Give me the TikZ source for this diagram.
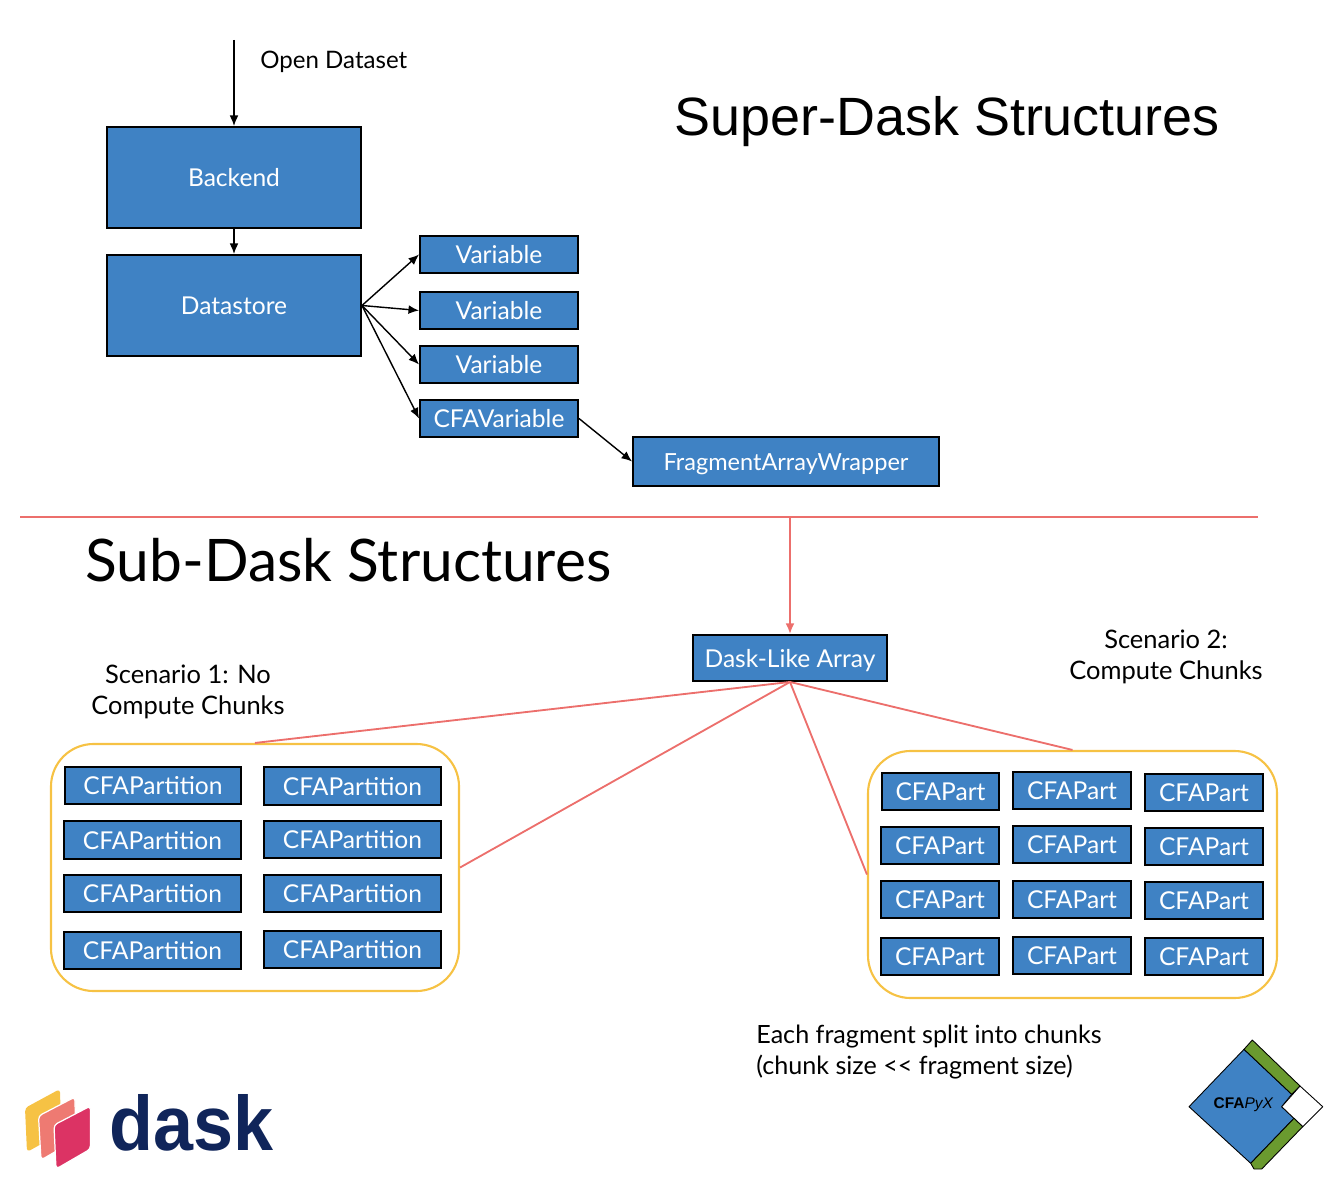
\documentclass[tikz,border=0pt]{standalone}
\usepackage{fontspec}
\setmainfont{Lato}
\newfontfamily\logofont{Liberation Sans}
\usetikzlibrary{arrows.meta}
\definecolor{boxblue}{HTML}{3F82C4}
\definecolor{redline}{HTML}{EC6F6C}
\definecolor{yel}{HTML}{F6C244}
\definecolor{daskpink}{HTML}{EE7A72}
\definecolor{daskred}{HTML}{DC3364}
\definecolor{dasknavy}{HTML}{10255A}
\definecolor{cfagreen}{HTML}{6A9A2F}
\newcommand{\pxbox}[7][bluebox]{%
  \pgfmathsetmacro{\cxv}{(#3+#5)/2}\pgfmathsetmacro{\cyv}{(#4+#6)/2}%
  \pgfmathsetmacro{\wv}{(#5-#3)*0.02}\pgfmathsetmacro{\hv}{(#6-#4)*0.02}%
  \node[#1,minimum width=\wv cm,minimum height=\hv cm] (#2) at (\cxv,\cyv) {#7};}
\tikzset{
  bluebox/.style={draw=black,line width=1.1pt,fill=boxblue,text=white,inner sep=0pt,text height=10.4pt,text depth=0pt,font=\fontsize{14}{16}\selectfont},
  fawbox/.style={bluebox,font=\fontsize{13.4}{16}\selectfont},
  arr/.style={draw=black,line width=0.8pt,-{Latex[length=6pt,width=5pt]}},
  redl/.style={draw=redline,line width=1.05pt},
  grp/.style={draw=yel,line width=1.2pt,rounded corners=0.85cm,inner sep=0pt},
  lbl/.style={text=black,font=\fontsize{14.5}{17.7}\selectfont,align=center,inner sep=0pt},
  titla/.style={text=black,font=\logofont\fontsize{30.7}{36}\selectfont,inner sep=0pt},
  titlb/.style={text=black,font=\fontsize{33.4}{36}\selectfont,inner sep=0pt},
  logoedge/.style={draw=black,line width=0.5pt,line join=round},
}
\begin{document}
\begin{tikzpicture}[x=0.02cm,y=-0.02cm]
\useasboundingbox (0,0) rectangle (1334,1192);
% top part
\coordinate (open) at (234,40);
\pxbox{backend}{107}{127}{361}{228}{Backend}
\pxbox{datastore}{107}{255}{361}{356}{Datastore}
\pxbox{v1}{420}{236}{578}{273}{Variable}
\pxbox{v2}{420}{292}{578}{329}{Variable}
\pxbox{v3}{420}{346}{578}{383}{Variable}
\pxbox{cv}{420}{400}{578}{437}{CFAVariable}
\pxbox[fawbox]{faw}{633}{437}{939}{486}{FragmentArrayWrapper}
\draw[arr] (open) -- (backend.north);
\draw[arr] (backend.south) -- (datastore.north);
\draw[arr] (datastore.east) -- (v1.west);
\draw[arr] (datastore.east) -- (v2.west);
\draw[arr] (datastore.east) -- (v3.west);
\draw[arr] (datastore.east) -- (cv.west);
\draw[arr] (cv.east) -- (faw.west);
\node[lbl,anchor=west,font=\fontsize{13.7}{17}\selectfont] (opl) at (260,61.5) {Open Dataset};
\node[titla,anchor=west] (t1) at (674,122) {Super-Dask Structures};
\node[titlb,anchor=west] (t2) at (85,560) {Sub-Dask Structures};
% divider
\coordinate (dl) at (20,517);
\coordinate (dr) at (1258,517);
\coordinate (dm) at (790,517);
\draw[redl] (dl) -- (dr);
% Dask-like
\pxbox{dla}{693}{635}{887}{681}{Dask-Like Array}
\draw[redl,-{Latex[length=6pt,width=5pt]}] (dm) -- (dla.north);
% groups
\pxbox[grp]{g1}{51}{744}{459}{991}{}
\pxbox[grp]{g2}{868}{751}{1277}{998}{}
\draw[redl] (dla.south) -- (g1.north);
\draw[redl] (dla.south) -- (g1.east);
\draw[redl] (dla.south) -- (g2.west);
\draw[redl] (dla.south) -- (g2.north);
\node[lbl] (s1) at (188,691.5) {Scenario 1: No\\Compute Chunks};
\node[lbl] (s2) at (1166,656.5) {Scenario 2:\\Compute Chunks};
\node[lbl,align=left,anchor=west,font=\fontsize{14.3}{17.7}\selectfont] (s3) at (756,1052) {Each fragment split into chunks\\(chunk size {<}{<} fragment size)};
% partitions
\pxbox{p1}{65}{767}{241}{804}{CFAPartition}
\pxbox{p2}{64}{821}{241}{859}{CFAPartition}
\pxbox{p3}{64}{875}{241}{912}{CFAPartition}
\pxbox{p4}{64}{932}{241}{969}{CFAPartition}
\pxbox{p5}{264}{767}{441}{805}{CFAPartition}
\pxbox{p6}{264}{821}{441}{858}{CFAPartition}
\pxbox{p7}{264}{875}{441}{912}{CFAPartition}
\pxbox{p8}{264}{931}{441}{968}{CFAPartition}
% parts
\pxbox{q1}{882}{773}{999}{810}{CFAPart}
\pxbox{q2}{881}{827}{999}{864}{CFAPart}
\pxbox{q3}{881}{881}{999}{918}{CFAPart}
\pxbox{q4}{881}{938}{999}{975}{CFAPart}
\pxbox{q5}{1013}{772}{1131}{809}{CFAPart}
\pxbox{q6}{1013}{826}{1131}{863}{CFAPart}
\pxbox{q7}{1013}{881}{1131}{918}{CFAPart}
\pxbox{q8}{1013}{937}{1131}{974}{CFAPart}
\pxbox{q9}{1145}{774}{1263}{811}{CFAPart}
\pxbox{q10}{1145}{828}{1263}{865}{CFAPart}
\pxbox{q11}{1145}{882}{1263}{919}{CFAPart}
\pxbox{q12}{1145}{938}{1263}{975}{CFAPart}
% dask logo
\fill[yel,rounded corners=2pt] (25,1108) -- (60,1089) -- (61,1133) -- (27,1152) -- cycle;
\fill[daskpink,draw=white,line width=0.7pt,rounded corners=2pt] (38.5,1116) -- (75,1097) -- (75.5,1140) -- (41,1160) -- cycle;
\fill[daskred,draw=white,line width=0.7pt,rounded corners=2pt] (54,1125) -- (90.5,1106) -- (90.5,1149) -- (56,1169) -- cycle;
\node[inner sep=0pt,anchor=base west,text=dasknavy,font=\logofont\fontsize{44}{44}\selectfont\bfseries] (dasktext) at (109,1150) {\scalebox{0.93}[1]{dask}};
% CFAPyX logo
\filldraw[fill=boxblue,logoedge] (1244,1049.3) -- (1291.7,1094.3) -- (1281.7,1106.7) -- (1294,1118.3) -- (1250.7,1163.3) -- (1189,1106.7) -- cycle;
\filldraw[fill=cfagreen,logoedge] (1252.3,1040) -- (1300,1086) -- (1291.7,1094.3) -- (1244,1049.3) -- cycle;
\filldraw[fill=white,logoedge] (1300,1086) -- (1322.7,1106.7) -- (1302.7,1126.7) -- (1281.7,1106.7) -- cycle;
\filldraw[fill=cfagreen,logoedge] (1294,1118.3) -- (1302.7,1126.7) -- (1261.7,1169) -- (1254,1169) -- (1250.7,1163.3) -- cycle;
\node[inner sep=0pt,text=black,font=\logofont\fontsize{8.8}{10}\selectfont] (cfapyx) at (1243.5,1105) {\textbf{CFA}\textit{PyX}};
\end{tikzpicture}
\end{document}
